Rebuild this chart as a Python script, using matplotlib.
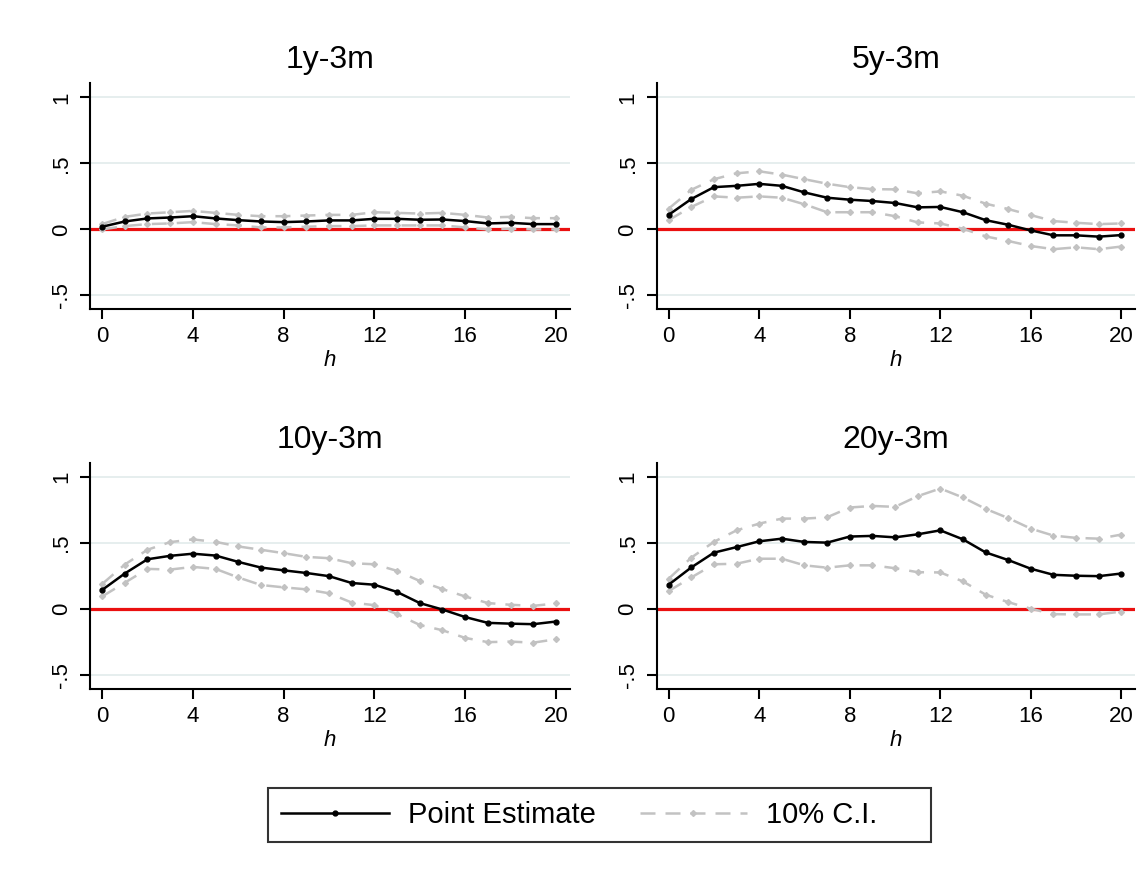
import matplotlib.pyplot as plt

plt.rcParams['font.family'] = ['Liberation Sans', 'DejaVu Sans']

h = list(range(21))

titles = ['1y-3m', '5y-3m', '10y-3m', '20y-3m']

est_1y = [0.02, 0.06, 0.083, 0.09, 0.10, 0.083, 0.07, 0.06, 0.055, 0.06, 0.068,
          0.068, 0.08, 0.08, 0.073, 0.075, 0.063, 0.045, 0.05, 0.04, 0.04]
hi_1y = [0.04, 0.095, 0.12, 0.13, 0.14, 0.125, 0.11, 0.10, 0.10, 0.105, 0.11,
         0.11, 0.13, 0.125, 0.12, 0.125, 0.11, 0.09, 0.095, 0.085, 0.085]
lo_1y = [0.0, 0.025, 0.04, 0.045, 0.055, 0.04, 0.03, 0.015, 0.015, 0.02, 0.025,
         0.025, 0.03, 0.03, 0.03, 0.03, 0.015, 0.0, 0.005, 0.0, 0.0]

est_5y = [0.11, 0.23, 0.32, 0.33, 0.345, 0.33, 0.28, 0.24, 0.225, 0.215, 0.20,
          0.167, 0.17, 0.13, 0.07, 0.035, -0.008, -0.045, -0.045, -0.055, -0.043]
hi_5y = [0.157, 0.30, 0.38, 0.425, 0.44, 0.415, 0.38, 0.346, 0.32, 0.305, 0.303,
         0.273, 0.288, 0.255, 0.195, 0.154, 0.108, 0.063, 0.05, 0.04, 0.045]
lo_5y = [0.07, 0.17, 0.25, 0.24, 0.25, 0.24, 0.19, 0.13, 0.13, 0.13, 0.10,
         0.053, 0.045, 0.005, -0.053, -0.088, -0.126, -0.15, -0.136, -0.15, -0.13]

est_10y = [0.145, 0.27, 0.378, 0.404, 0.42, 0.406, 0.358, 0.315, 0.294, 0.274, 0.25,
           0.198, 0.185, 0.13, 0.046, -0.003, -0.06, -0.104, -0.11, -0.114, -0.094]
hi_10y = [0.19, 0.338, 0.45, 0.508, 0.528, 0.51, 0.475, 0.45, 0.424, 0.396, 0.386,
          0.348, 0.34, 0.29, 0.213, 0.152, 0.096, 0.046, 0.033, 0.025, 0.043]
lo_10y = [0.096, 0.20, 0.305, 0.30, 0.32, 0.305, 0.24, 0.183, 0.165, 0.15, 0.12,
          0.05, 0.03, -0.038, -0.12, -0.16, -0.218, -0.25, -0.246, -0.254, -0.228]

est_20y = [0.185, 0.316, 0.428, 0.47, 0.514, 0.534, 0.509, 0.504, 0.55, 0.555, 0.544,
           0.567, 0.597, 0.529, 0.43, 0.372, 0.306, 0.26, 0.253, 0.25, 0.27]
hi_20y = [0.23, 0.39, 0.51, 0.597, 0.648, 0.686, 0.686, 0.696, 0.77, 0.782, 0.775,
          0.856, 0.914, 0.846, 0.76, 0.69, 0.61, 0.557, 0.54, 0.534, 0.565]
lo_20y = [0.137, 0.24, 0.34, 0.344, 0.382, 0.382, 0.332, 0.314, 0.332, 0.332, 0.31,
          0.28, 0.278, 0.21, 0.11, 0.053, 0.003, -0.038, -0.04, -0.04, -0.018]

panels = [(est_1y, hi_1y, lo_1y), (est_5y, hi_5y, lo_5y),
          (est_10y, hi_10y, lo_10y), (est_20y, hi_20y, lo_20y)]

yticks = [-0.5, 0, 0.5, 1]
ytick_labels = ['-.5', '0', '.5', '1']
xticks = [0, 4, 8, 12, 16, 20]

fig = plt.figure(figsize=(11.4, 8.69), dpi=100)

# axes boxes in figure fractions: left, bottom, width, height
boxes = [(0.079, 0.644, 0.421, 0.260), (0.576, 0.644, 0.420, 0.260),
         (0.079, 0.207, 0.421, 0.260), (0.576, 0.207, 0.420, 0.260)]

gray = '#c2c2c2'
for box, title, (est, hi, lo) in zip(boxes, titles, panels):
    ax = fig.add_axes(box)
    for y in yticks:
        ax.axhline(y, color='#e4eded', lw=1.3, zorder=0)
    ax.axhline(0, color='#ea1010', lw=2.3, zorder=1)
    ax.plot(h, hi, color=gray, lw=1.8, dashes=(6, 4), marker='D', ms=3, zorder=2)
    ax.plot(h, lo, color=gray, lw=1.8, dashes=(6, 4), marker='D', ms=3, zorder=2)
    ax.plot(h, est, color='black', lw=1.8, marker='o', ms=3.5, zorder=3)
    ax.set_xlim(-0.53, 20.62)
    ax.set_ylim(-0.606, 1.106)
    ax.set_xticks(xticks)
    ax.set_yticks(yticks)
    ax.set_yticklabels(ytick_labels, rotation=90, va='center')
    ax.tick_params(labelsize=16, length=7, width=1.5, direction='out')
    ax.tick_params(axis='x', pad=5)
    ax.tick_params(axis='y', pad=6)
    ax.set_xlabel('h', fontsize=16, style='italic', labelpad=2)
    ax.set_title(title, fontsize=23, pad=11)
    for s in ['top', 'right']:
        ax.spines[s].set_visible(False)
    for s in ['left', 'bottom']:
        ax.spines[s].set_linewidth(1.5)

h_pe, = plt.plot([], [], color='black', lw=1.8, marker='o', ms=3.5)
h_ci, = plt.plot([], [], color=gray, lw=1.8, dashes=(6, 4), marker='D', ms=3)
# trailing spaces widen the box on the right like the equal-width columns
leg = fig.legend([h_pe, h_ci], ['Point Estimate', '10% C.I.     '], ncol=2,
                 loc='center', bbox_to_anchor=(0.526, 0.062), fontsize=21,
                 fancybox=False, edgecolor='black', handlelength=3.7,
                 columnspacing=1.5, borderpad=0.45, handletextpad=0.65,
                 borderaxespad=0.5)
leg.get_frame().set_linewidth(1.5)

fig.savefig('out.png', dpi=100)
